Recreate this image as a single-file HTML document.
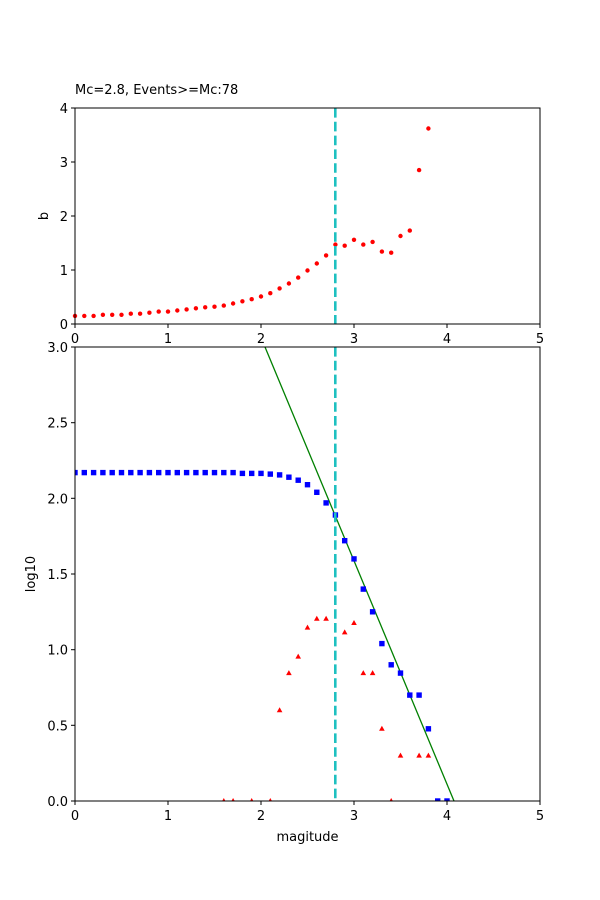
<!DOCTYPE html>
<html><head><meta charset="utf-8"><style>body{margin:0;background:#fff}svg{display:block}text{font-family:"DejaVu Sans","Liberation Sans",sans-serif;font-size:13px;fill:#000}</style></head><body>
<svg width="600" height="900" xmlns="http://www.w3.org/2000/svg">
<defs>
<circle id="d" r="2.2" fill="#ff0000"/>
<rect id="s" x="-2.7" y="-2.7" width="5.4" height="5.4" fill="#0000ff"/>
<polygon id="t" points="0,-3 2.8,2 -2.8,2" fill="#ff0000"/>
<clipPath id="cb"><rect x="75" y="347" width="465" height="454"/></clipPath>
</defs>
<rect width="600" height="900" fill="#fff"/>
<text x="75" y="94">Mc=2.8, Events&gt;=Mc:78</text>
<g>
<use href="#d" x="75" y="315.9"/><use href="#d" x="84.3" y="315.9"/><use href="#d" x="93.6" y="315.9"/><use href="#d" x="102.9" y="314.8"/><use href="#d" x="112.2" y="314.8"/><use href="#d" x="121.5" y="314.8"/><use href="#d" x="130.8" y="313.7"/><use href="#d" x="140.1" y="313.7"/><use href="#d" x="149.4" y="312.7"/><use href="#d" x="158.7" y="311.6"/><use href="#d" x="168" y="311.6"/><use href="#d" x="177.3" y="310.5"/><use href="#d" x="186.6" y="309.4"/><use href="#d" x="195.9" y="308.3"/><use href="#d" x="205.2" y="307.3"/><use href="#d" x="214.5" y="306.7"/><use href="#d" x="223.8" y="305.6"/><use href="#d" x="233.1" y="303.5"/><use href="#d" x="242.4" y="301.3"/><use href="#d" x="251.7" y="299.2"/><use href="#d" x="261" y="296.5"/><use href="#d" x="270.3" y="293.2"/><use href="#d" x="279.6" y="288.4"/><use href="#d" x="288.9" y="283.5"/><use href="#d" x="298.2" y="277.6"/><use href="#d" x="307.5" y="270.5"/><use href="#d" x="316.8" y="263.5"/><use href="#d" x="326.1" y="255.4"/><use href="#d" x="335.4" y="244.6"/><use href="#d" x="344.7" y="245.7"/><use href="#d" x="354" y="239.8"/><use href="#d" x="363.3" y="244.6"/><use href="#d" x="372.6" y="241.9"/><use href="#d" x="381.9" y="251.6"/><use href="#d" x="391.2" y="252.7"/><use href="#d" x="400.5" y="236"/><use href="#d" x="409.8" y="230.6"/><use href="#d" x="419.1" y="170.1"/><use href="#d" x="428.4" y="128.5"/>
</g>
<line x1="335.3" y1="108" x2="335.3" y2="324" stroke="#1ec0c0" stroke-width="2.6" stroke-dasharray="9.6,4.2"/>
<rect x="75" y="108" width="465" height="216" fill="none" stroke="#000" stroke-width="1"/>
<g stroke="#000">
<line x1="75" y1="324" x2="75" y2="328"/><line x1="168" y1="324" x2="168" y2="328"/><line x1="261" y1="324" x2="261" y2="328"/><line x1="354" y1="324" x2="354" y2="328"/><line x1="447" y1="324" x2="447" y2="328"/><line x1="540" y1="324" x2="540" y2="328"/>
<line x1="71" y1="324" x2="75" y2="324"/><line x1="71" y1="270" x2="75" y2="270"/><line x1="71" y1="216" x2="75" y2="216"/><line x1="71" y1="162" x2="75" y2="162"/><line x1="71" y1="108" x2="75" y2="108"/>
</g>
<g text-anchor="middle">
<text x="75" y="343">0</text><text x="168" y="343">1</text><text x="261" y="343">2</text><text x="354" y="343">3</text><text x="447" y="343">4</text><text x="540" y="343">5</text>
</g>
<g text-anchor="end">
<text x="68" y="329">0</text><text x="68" y="275">1</text><text x="68" y="221">2</text><text x="68" y="167">3</text><text x="68" y="113">4</text>
</g>
<text x="48" y="216" text-anchor="middle" transform="rotate(-90 48 216)">b</text>
<g clip-path="url(#cb)">
<line x1="265" y1="347" x2="454" y2="801" stroke="#008000" stroke-width="1.3"/>
<use href="#s" x="75" y="472.6"/><use href="#s" x="84.3" y="472.6"/><use href="#s" x="93.6" y="472.6"/><use href="#s" x="102.9" y="472.6"/><use href="#s" x="112.2" y="472.6"/><use href="#s" x="121.5" y="472.6"/><use href="#s" x="130.8" y="472.6"/><use href="#s" x="140.1" y="472.6"/><use href="#s" x="149.4" y="472.6"/><use href="#s" x="158.7" y="472.6"/><use href="#s" x="168" y="472.6"/><use href="#s" x="177.3" y="472.6"/><use href="#s" x="186.6" y="472.6"/><use href="#s" x="195.9" y="472.6"/><use href="#s" x="205.2" y="472.6"/><use href="#s" x="214.5" y="472.6"/><use href="#s" x="223.8" y="472.6"/><use href="#s" x="233.1" y="472.6"/><use href="#s" x="242.4" y="473.4"/><use href="#s" x="251.7" y="473.4"/><use href="#s" x="261" y="473.4"/><use href="#s" x="270.3" y="474.1"/><use href="#s" x="279.6" y="474.9"/><use href="#s" x="288.9" y="477.2"/><use href="#s" x="298.2" y="480.2"/><use href="#s" x="307.5" y="484.7"/><use href="#s" x="316.8" y="492.3"/><use href="#s" x="326.1" y="502.9"/><use href="#s" x="335.4" y="515"/><use href="#s" x="344.7" y="540.7"/><use href="#s" x="354" y="558.9"/><use href="#s" x="363.3" y="589.1"/><use href="#s" x="372.6" y="611.8"/><use href="#s" x="381.9" y="643.6"/><use href="#s" x="391.2" y="664.8"/><use href="#s" x="400.5" y="673.1"/><use href="#s" x="409.8" y="695.1"/><use href="#s" x="419.1" y="695.1"/><use href="#s" x="428.4" y="728.8"/><use href="#s" x="437.7" y="801"/><use href="#s" x="447" y="801"/>
<use href="#t" x="223.8" y="801"/><use href="#t" x="233.1" y="801"/><use href="#t" x="251.7" y="801"/><use href="#t" x="270.3" y="801"/><use href="#t" x="279.6" y="710.2"/><use href="#t" x="288.9" y="673.1"/><use href="#t" x="298.2" y="656.6"/><use href="#t" x="307.5" y="627.6"/><use href="#t" x="316.8" y="618.8"/><use href="#t" x="326.1" y="618.8"/><use href="#t" x="344.7" y="632.4"/><use href="#t" x="354" y="623"/><use href="#t" x="363.3" y="673.1"/><use href="#t" x="372.6" y="673.1"/><use href="#t" x="381.9" y="728.8"/><use href="#t" x="391.2" y="801"/><use href="#t" x="400.5" y="755.6"/><use href="#t" x="419.1" y="755.6"/><use href="#t" x="428.4" y="755.6"/>
</g>
<line x1="335.3" y1="347" x2="335.3" y2="801" stroke="#1ec0c0" stroke-width="2.6" stroke-dasharray="9.6,4.2"/>
<rect x="75" y="347" width="465" height="454" fill="none" stroke="#000" stroke-width="1"/>
<g stroke="#000">
<line x1="75" y1="801" x2="75" y2="805"/><line x1="168" y1="801" x2="168" y2="805"/><line x1="261" y1="801" x2="261" y2="805"/><line x1="354" y1="801" x2="354" y2="805"/><line x1="447" y1="801" x2="447" y2="805"/><line x1="540" y1="801" x2="540" y2="805"/>
<line x1="71" y1="801" x2="75" y2="801"/><line x1="71" y1="725.3" x2="75" y2="725.3"/><line x1="71" y1="649.7" x2="75" y2="649.7"/><line x1="71" y1="574" x2="75" y2="574"/><line x1="71" y1="498.3" x2="75" y2="498.3"/><line x1="71" y1="422.7" x2="75" y2="422.7"/><line x1="71" y1="347" x2="75" y2="347"/>
</g>
<g text-anchor="middle">
<text x="75" y="820">0</text><text x="168" y="820">1</text><text x="261" y="820">2</text><text x="354" y="820">3</text><text x="447" y="820">4</text><text x="540" y="820">5</text>
</g>
<g text-anchor="end">
<text x="68" y="806">0.0</text><text x="68" y="730.3">0.5</text><text x="68" y="654.7">1.0</text><text x="68" y="579">1.5</text><text x="68" y="503.3">2.0</text><text x="68" y="427.7">2.5</text><text x="68" y="352">3.0</text>
</g>
<text x="307.5" y="841" text-anchor="middle">magitude</text>
<text x="35" y="574" text-anchor="middle" transform="rotate(-90 35 574)">log10</text>
</svg>
</body></html>
